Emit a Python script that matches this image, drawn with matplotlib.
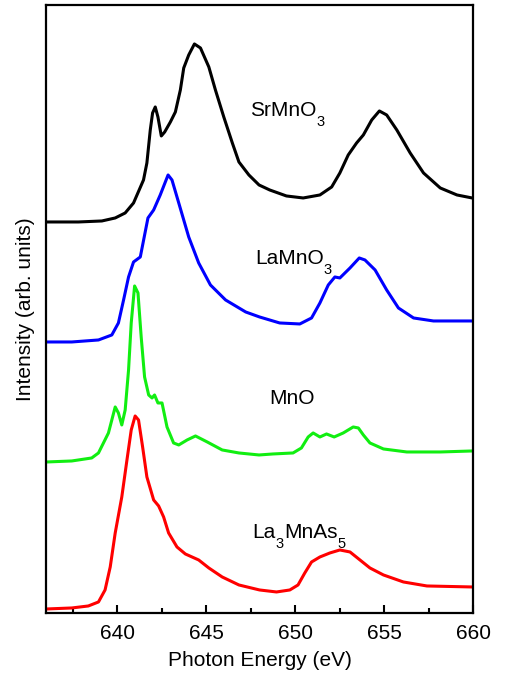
import matplotlib
matplotlib.use('Agg')
import matplotlib.pyplot as plt
from matplotlib.ticker import MultipleLocator
from matplotlib.transforms import IdentityTransform

plt.rcParams['font.family'] = ['Liberation Sans', 'DejaVu Sans']

# spectra (energy in eV, intensity in arb. units incl. offset)
srmno3_e = [636.13, 637.82, 639.14, 639.89, 640.45, 640.92, 641.48, 641.67, 641.86, 641.99,
            642.14, 642.29, 642.48, 642.67, 642.99, 643.27, 643.55, 643.74, 644.02, 644.34,
            644.68, 645.15, 645.52, 645.99, 646.47, 646.84, 647.4, 647.97, 648.57, 649.51,
            650.45, 651.39, 652.05, 652.51, 652.98, 653.45, 653.83, 654.3, 654.73, 655.14,
            655.71, 656.46, 657.21, 658.15, 659.09, 659.94]
srmno3_i = [391, 391, 392, 395, 400, 410, 433, 450, 483, 500,
            506, 496, 477, 481, 491, 501, 523, 545, 558, 569,
            565, 546, 523, 496, 470, 451, 438, 428, 423, 417,
            415, 418, 426, 440, 458, 470, 478, 493, 502, 498,
            483, 460, 440, 425, 418, 415]

lamno3_e = [636.04, 637.45, 638.95, 639.7, 640.07, 640.36, 640.64, 640.92, 641.3, 641.52,
            641.73, 642.05, 642.42, 642.86, 643.08, 643.46, 644.02, 644.58, 645.24, 646.09,
            647.22, 648.0, 649.13, 650.26, 650.92, 651.39, 651.86, 652.23, 652.51, 653.08,
            653.6, 653.92, 654.49, 655.14, 655.8, 656.65, 657.77, 659.94]
lamno3_i = [271, 271, 273, 278, 290, 313, 336, 351, 356, 376,
            395, 403, 418, 438, 433, 410, 376, 350, 328, 313,
            301, 296, 290, 289, 295, 310, 328, 336, 335, 345,
            355, 353, 343, 323, 305, 295, 292, 292]

mno_e = [636.04, 637.45, 638.57, 638.95, 639.23, 639.51, 639.7, 639.89, 640.07, 640.26,
         640.45, 640.64, 640.79, 640.98, 641.17, 641.35, 641.54, 641.77, 641.96, 642.1,
         642.29, 642.52, 642.8, 643.17, 643.46, 643.93, 644.4, 645.06, 645.9, 646.84,
         647.97, 648.75, 649.88, 650.35, 650.73, 651.01, 651.39, 651.76, 652.19, 652.7,
         653.26, 653.55, 653.83, 654.2, 654.96, 656.27, 658.15, 659.94]
mno_i = [151, 152, 155, 160, 170, 180, 193, 206, 200, 188,
         203, 243, 290, 327, 320, 276, 236, 218, 215, 218,
         210, 210, 186, 170, 168, 173, 177, 171, 163, 160,
         158, 159, 160, 165, 176, 180, 176, 179, 176, 180,
         186, 185, 178, 170, 164, 161, 161, 162]

la3mnas5_e = [636.04, 637.45, 638.38, 638.95, 639.32, 639.61, 639.89, 640.26, 640.55, 640.79,
              641.01, 641.2, 641.43, 641.67, 642.05, 642.33, 642.61, 642.89, 643.36, 643.83,
              644.58, 645.15, 645.9, 646.84, 648.0, 648.95, 649.7, 650.16, 650.54, 650.92,
              651.39, 651.95, 652.51, 653.08, 653.64, 654.2, 654.96, 656.08, 657.4, 659.94]
la3mnas5_i = [4, 5, 7, 11, 23, 46, 80, 116, 153, 183,
              197, 193, 166, 136, 113, 107, 96, 80, 66, 59,
              53, 45, 36, 28, 23, 21, 23, 28, 40, 51,
              56, 60, 63, 61, 53, 45, 38, 31, 27, 26]

fig = plt.figure(figsize=(5.05, 6.81), dpi=100)
ax = fig.add_axes([0.091, 0.0999, 0.846, 0.8928])

lw = 2.2
ax.plot(srmno3_e, srmno3_i, color='black', lw=lw)
ax.plot(lamno3_e, lamno3_i, color='#0000ff', lw=lw)
ax.plot(mno_e, mno_i, color='#11ee11', lw=lw)
ax.plot(la3mnas5_e, la3mnas5_i, color='#ff0000', lw=lw)

ax.set_xlim(636, 660)
ax.set_ylim(0, 608)

fs = 15
renderer = fig.canvas.get_renderer()


# formula labels with low-set subscripts, drawn piece by piece in pixels
def chem_label(x, y, parts):
    px, py = ax.transData.transform((x, y))
    for s, sub in parts:
        if sub:
            t = ax.text(px, py - 10, s, fontsize=10.5, transform=IdentityTransform(), va='baseline')
        else:
            t = ax.text(px, py, s, fontsize=fs, transform=IdentityTransform(), va='baseline')
        px += t.get_window_extent(renderer).width


chem_label(647.44, 497, [('SrMnO', False), ('3', True)])
chem_label(647.73, 349, [('LaMnO', False), ('3', True)])
chem_label(648.57, 209, [('MnO', False)])
chem_label(647.6, 75, [('La', False), ('3', True), ('MnAs', False), ('5', True)])

ax.xaxis.set_major_locator(MultipleLocator(5))
ax.xaxis.set_minor_locator(MultipleLocator(2.5))
ax.set_yticks([])
ax.tick_params(axis='x', which='major', direction='in', length=6, width=1.5, labelsize=fs, pad=8)
ax.tick_params(axis='x', which='minor', direction='in', length=3.5, width=1.5)
for s in ax.spines.values():
    s.set_linewidth(1.6)

ax.set_xlabel('Photon Energy (eV)', fontsize=fs, labelpad=6)
ax.set_ylabel('Intensity (arb. units)', fontsize=fs, labelpad=8)

fig.savefig('out.png', dpi=100)
